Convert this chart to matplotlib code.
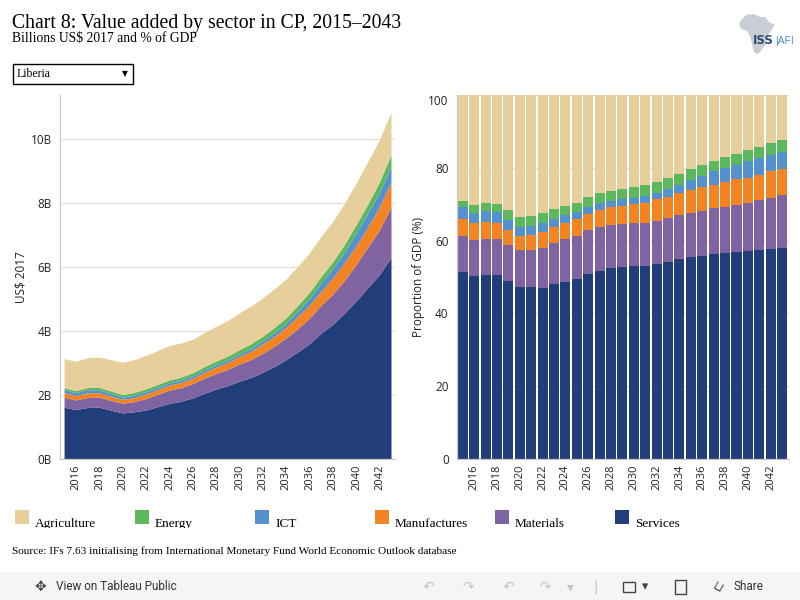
import matplotlib
matplotlib.use("Agg")
import matplotlib.pyplot as plt
from matplotlib.patches import Rectangle, Polygon
from matplotlib.transforms import Bbox, TransformedBbox
import numpy as np

# ---- data ----
years = list(range(2015, 2044))

# total value added, billions US$ 2017 (left chart)
total_bn = [3.12, 3.04, 3.15, 3.17, 3.09, 3.01, 3.09, 3.22, 3.37, 3.53,
            3.61, 3.72, 3.93, 4.13, 4.31, 4.55, 4.76, 5.02, 5.30, 5.61,
            6.00, 6.42, 6.94, 7.40, 7.97, 8.60, 9.27, 9.95, 10.83]

# share of GDP in % (right chart), bottom to top
services = [51.4, 50.3, 50.6, 50.6, 48.9, 47.3, 47.3, 47.0, 48.1, 48.7,
            49.5, 50.9, 51.7, 52.5, 52.8, 53.1, 53.1, 53.7, 54.2, 55.0,
            55.5, 55.8, 56.4, 56.6, 56.9, 57.2, 57.5, 57.7, 58.0]
materials = [9.9, 9.9, 9.9, 9.9, 9.9, 10.2, 10.2, 11.1, 11.3, 11.8,
             11.8, 12.0, 12.1, 11.8, 11.8, 11.8, 11.8, 11.7, 12.0, 12.1,
             12.1, 12.4, 12.6, 12.7, 12.9, 13.2, 13.7, 14.0, 14.6]
manufactures = [4.7, 4.5, 4.7, 4.4, 4.2, 3.9, 4.1, 4.4, 4.4, 4.4,
                4.5, 4.4, 4.7, 4.8, 5.0, 5.2, 5.5, 5.9, 5.8, 6.0,
                6.4, 6.5, 6.3, 6.9, 7.0, 6.8, 6.8, 7.3, 7.1]
ict = [3.1, 2.9, 3.0, 3.0, 2.7, 2.4, 2.4, 2.4, 2.2, 2.0,
       2.1, 2.0, 1.9, 1.8, 1.9, 1.7, 1.9, 1.9, 2.2, 2.2,
       2.7, 3.1, 3.7, 3.8, 4.0, 4.7, 4.7, 4.5, 4.7]
energy = [1.8, 2.2, 2.2, 2.2, 2.7, 2.7, 2.8, 2.7, 2.7, 2.6,
          2.5, 2.7, 2.7, 2.8, 2.7, 2.9, 3.0, 2.9, 3.0, 3.0,
          3.0, 3.0, 2.9, 3.0, 3.0, 3.0, 3.0, 3.3, 3.2]
agriculture = [29.1, 30.2, 29.6, 29.9, 31.6, 33.5, 33.2, 32.4, 31.3, 30.5,
               29.6, 28.0, 26.9, 26.3, 25.8, 25.3, 24.7, 23.9, 22.8, 21.7,
               20.3, 19.2, 18.1, 17.0, 16.2, 15.1, 14.3, 13.2, 12.4]

sectors = ["Services", "Materials", "Manufactures", "ICT", "Energy", "Agriculture"]
shares = [services, materials, manufactures, ict, energy, agriculture]
colors = ["#213D7A", "#8064A2", "#F28424", "#5591CF", "#5CB85D", "#E6CF9A"]

legend_order = ["Agriculture", "Energy", "ICT", "Manufactures", "Materials", "Services"]

W, H = 800, 600
SERIF = "Liberation Serif"
SANS = "Open Sans"


def fx(px):
    return px / W


def fy(py):
    return 1 - py / H


fig = plt.figure(figsize=(8, 6), dpi=100)

# ---- left: stacked area, absolute values ----
ax1 = fig.add_axes([fx(60), fy(459), 335 / W, 364 / H])
tot = np.array(total_bn)
layers = [tot * np.array(s) / 100.0 for s in shares]
ax1.stackplot(years, layers, colors=colors, linewidth=0)
ax1.set_xlim(2014.61, 2043.3)
ax1.set_ylim(0, 11.375)
ax1.set_yticks(range(0, 11, 2))
ax1.set_yticklabels(["%dB" % v for v in range(0, 11, 2)])
ax1.set_ylabel("US$ 2017", family=SANS, fontsize=8.5, color="#222")
ax1.yaxis.set_label_coords(-0.098, 0.5)

# ---- right: 100% stacked bars ----
ax2 = fig.add_axes([fx(457), fy(459), 332 / W, 364 / H])
bottom = np.zeros(len(years))
for s, c in zip(shares, colors):
    ax2.bar(years, s, bottom=bottom, width=0.88, color=c, linewidth=0)
    bottom += np.array(s)
ax2.set_xlim(2014.5, 2043.6)
ax2.set_ylim(0, 100)
ax2.set_yticks(range(0, 101, 20))
ax2.set_ylabel("Proportion of GDP (%)", family=SANS, fontsize=8.5, color="#222")
ax2.yaxis.set_label_coords(-0.096, 0.5)

for ax in (ax1, ax2):
    ax.set_axisbelow(True)
    ax.grid(axis="y", color="#dcdcdc", linewidth=0.8)
    for sp in ("top", "right"):
        ax.spines[sp].set_visible(False)
    for sp in ("left", "bottom"):
        ax.spines[sp].set_color("#c8c8c8")
        ax.spines[sp].set_linewidth(0.9)
    ax.set_xticks(range(2016, 2043, 2))
    ax.tick_params(axis="x", length=0, pad=4, rotation=90, labelsize=8, labelcolor="#222")
    ax.tick_params(axis="y", length=0, pad=6, labelsize=8.5, labelcolor="#222")
    for lab in ax.get_xticklabels() + ax.get_yticklabels():
        lab.set_family(SANS)

# top label on the share axis sits just under its gridline
ax2.get_yticklabels()[-1].set_va("top")

# ---- header ----
fig.text(fx(12), fy(28), "Chart 8: Value added by sector in CP, 2015\u20132043",
         family=SERIF, fontsize=14.2, va="baseline", color="black")
fig.text(fx(12), fy(42), "Billions US$ 2017 and % of GDP",
         family=SERIF, fontsize=9.8, va="baseline", color="black")

# country dropdown
fig.add_artist(Rectangle((fx(13), fy(84)), 120 / W, 20 / H, transform=fig.transFigure,
                         fill=False, ec="black", lw=1))
fig.text(fx(17), fy(74), "Liberia", family=SERIF, fontsize=8.5, va="center")
fig.text(fx(125), fy(74), "\u25BC", family="DejaVu Sans", fontsize=5.5, va="center", ha="center")

# logo
africa = [(741, 20), (746, 15), (754, 14), (760, 17), (765, 17), (770, 23), (775, 24),
          (771, 31), (767, 36), (766, 44), (761, 51), (757, 54), (754, 52), (752, 44),
          (750, 36), (747, 31), (741, 29), (739, 24)]
fig.add_artist(Polygon([(fx(x), fy(y)) for x, y in africa], closed=True,
                       transform=fig.transFigure, fc="#c9ced6", ec="none"))
fig.text(fx(753), fy(44), "ISS", family="Liberation Sans Narrow", fontsize=8.5,
         weight="bold", color="#2e4b70", va="baseline")
fig.text(fx(775), fy(44), "|AFI", family="Liberation Sans", fontsize=7.5,
         color="#4a8cc8", va="baseline")

# ---- legend ----
clip = TransformedBbox(Bbox([[0, fy(528)], [1, 1]]), fig.transFigure)
for i, name in enumerate(legend_order):
    c = colors[sectors.index(name)]
    x0 = 15 + 120 * i
    fig.add_artist(Rectangle((fx(x0), fy(524)), 14 / W, 14 / H,
                             transform=fig.transFigure, fc=c, ec="none"))
    t = fig.text(fx(x0 + 20), fy(527), name, family=SERIF, fontsize=9.5, va="baseline")
    t.set_clip_box(clip)
    t.set_clip_on(True)

fig.text(fx(12), fy(551),
         "Source: IFs 7.63 initialising from International Monetary Fund World Economic Outlook database",
         family=SERIF, fontsize=8.1, va="center")

# ---- tableau toolbar ----
fig.add_artist(Rectangle((0, 0), 1, 28 / H, transform=fig.transFigure,
                         fc="#f5f5f5", ec="none"))
fig.text(fx(56), fy(587), "View on Tableau Public", family="Roboto", fontsize=8.5,
         color="#333", va="center")
fig.text(fx(40), fy(587), "\u2725", family="DejaVu Sans", fontsize=10,
         color="#444", va="center", ha="center")
for x, g in [(428, "\u21B6"), (468, "\u21B7"), (508, "\u21B6"), (545, "\u21B7"), (570, "\u25BE")]:
    fig.text(fx(x), fy(587), g, family="DejaVu Sans", fontsize=10, color="#c4c4c4",
             va="center", ha="center")
fig.text(fx(596), fy(587), "|", family="DejaVu Sans", fontsize=10, color="#c4c4c4",
         va="center", ha="center")
fig.add_artist(Rectangle((fx(623), fy(592)), 12 / W, 10 / H, transform=fig.transFigure,
                         fill=False, ec="#444", lw=1))
fig.text(fx(645), fy(587), "\u25BE", family="DejaVu Sans", fontsize=9, color="#444",
         va="center", ha="center")
fig.add_artist(Rectangle((fx(675), fy(594)), 11 / W, 14 / H, transform=fig.transFigure,
                         fill=False, ec="#444", lw=1))
fig.text(fx(718), fy(587), "\u2294", family="DejaVu Sans", fontsize=9, color="#444",
         va="center", ha="center", rotation=-30)
fig.text(fx(733), fy(587), "Share", family="Roboto", fontsize=8.5, color="#333", va="center")

fig.savefig("out.png", dpi=100)
